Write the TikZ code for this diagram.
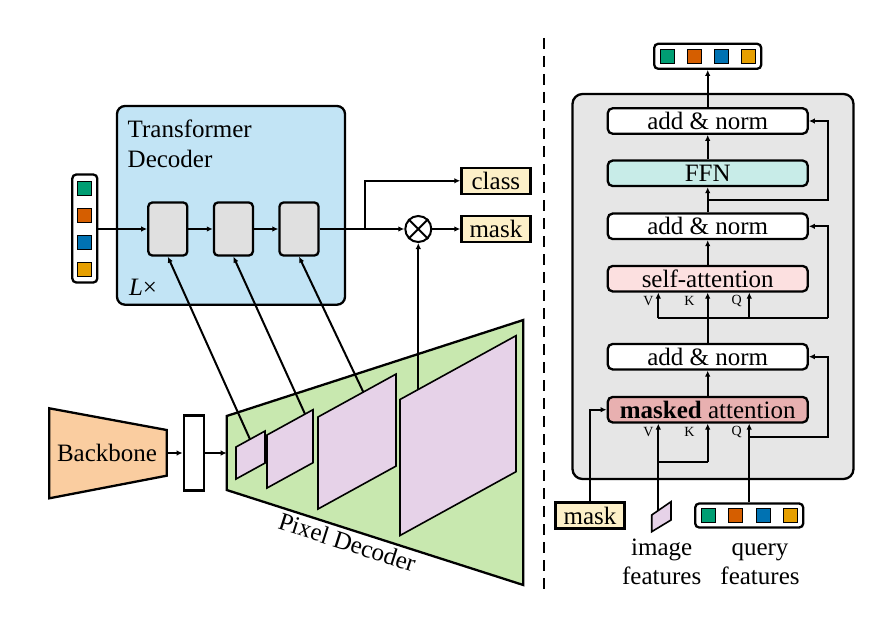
\documentclass[tikz,border=0pt]{standalone}
\usepackage{fontspec}
\setmainfont{Liberation Serif}
\usetikzlibrary{calc, arrows.meta}
\tikzset{>={Latex[length=6pt,width=5.5pt]}}
\definecolor{tdblue}{RGB}{194,228,245}
\definecolor{bbpeach}{RGB}{250,205,160}
\definecolor{pdgreen}{RGB}{200,232,175}
\definecolor{mappink}{RGB}{230,210,232}
\definecolor{outyellow}{RGB}{253,240,200}
\definecolor{blockgray}{RGB}{224,224,224}
\definecolor{panelgray}{RGB}{230,230,230}
\definecolor{ffncol}{RGB}{200,236,232}
\definecolor{sacol}{RGB}{252,224,224}
\definecolor{macol}{RGB}{232,176,176}
\definecolor{tokgreen}{RGB}{0,158,115}
\definecolor{tokorange}{RGB}{213,94,0}
\definecolor{tokblue}{RGB}{0,114,178}
\definecolor{tokgold}{RGB}{230,159,0}

\begin{document}
\begin{tikzpicture}[x=1pt, y=-1pt, line width=2pt, font=\fontsize{25}{30}\selectfont,
  tok/.style={draw, line width=0.8pt, minimum size=14pt, inner sep=0pt},
  tokbox/.style={draw, line width=2.3pt, rounded corners=4pt, fill=white, inner sep=0pt},
  layer/.style={draw, line width=2.3pt, rounded corners=4pt, fill=blockgray, minimum width=39pt, minimum height=53pt, inner sep=0pt},
  outbox/.style={draw, line width=2.3pt, fill=outyellow, minimum width=69pt, minimum height=26pt, inner sep=0pt},
  sublayer/.style={draw, line width=2.3pt, rounded corners=5pt, minimum width=200pt, minimum height=25.5pt, inner sep=0pt},
  featmap/.style={draw, fill=mappink, line width=1.6pt},
  qkv/.style={font=\fontsize{14}{15}\selectfont, inner sep=0pt}]
\useasboundingbox (0,0) rectangle (877,623);

% transformer decoder
\draw[fill=tdblue, line width=2.3pt, rounded corners=8pt] (117,106) rectangle (345,304.7);
\node[anchor=north west, align=left, inner sep=0pt, font=\fontsize{25}{30.3}\selectfont] (tdlabel) at (126.7,118.5) {Transformer\\Decoder};
\node[anchor=base west, inner sep=0pt] (lx) at (128,295) {{\itshape L}×};

\node[tokbox, minimum width=25pt, minimum height=108pt] (qleft) at (84.8,228.5) {};
\foreach \c [count=\i] in {tokgreen,tokorange,tokblue,tokgold}
  \node[tok, fill=\c] (ql\i) at (84.8,161+27*\i) {};

\node[layer] (blk1) at (167.8,229) {};
\node[layer] (blk2) at (233.4,229) {};
\node[layer] (blk3) at (299,229) {};
\draw[->] (qleft.east |- blk1.west) -- (blk1.west);
\draw[->] (blk1.east) -- (blk2.west);
\draw[->] (blk2.east) -- (blk3.west);

\node[draw, circle, minimum size=26pt, inner sep=0pt] (otimes) at (418.3,229) {};
\draw (otimes.north west) -- (otimes.south east) (otimes.north east) -- (otimes.south west);
\node[outbox] (cls) at (495.9,180.8) {class};
\node[outbox] (msk) at (495.9,229) {mask};
\draw[->] (blk3.east) -- (otimes.west);
\coordinate (split) at (365,229);
\draw[->] (split) |- (cls.west);
\draw[->] (otimes.east) -- (msk.west);

% backbone and pixel decoder
\draw[fill=bbpeach, line width=2.3pt] (49.3,408.3) -- (166.7,430) -- (166.7,475.7) -- (49.3,498.3) -- cycle;
\node (backbone) at (107,453) {Backbone};
\coordinate (bbout) at (166.7,453);
\node[draw, line width=2.3pt, fill=white, minimum width=20pt, minimum height=75pt, inner sep=0pt] (bbfeat) at (193.8,453) {};
\draw[->] (bbout) -- (bbfeat.west);

\draw[fill=pdgreen, line width=2.3pt] (226.7,416) -- (523.3,320) -- (523.3,585) -- (226.7,490) -- cycle;
\coordinate (pdin) at (226.7,453);
\draw[->] (bbfeat.east) -- (pdin);
\path (226.7,490) -- (523.3,585) node[pos=0.42, sloped, below, inner sep=3pt] (pdlabel) {Pixel Decoder};

\foreach \xl/\yt/\w/\h in {236/447/29/32, 267/435/46/53, 318/417/78/92, 400/399.5/116/136}
  \draw[featmap] (\xl,\yt) -- ++(\w,{-0.55*\w}) -- ++(0,\h) -- ++({-\w},{0.55*\w}) -- cycle;

\coordinate (f1) at (250,439.3);
\coordinate (f2) at (305,414);
\coordinate (f3) at (363.3,392);
\coordinate (f4) at (418.3,389.4);
\draw[->] (f1) -- (blk1.south);
\draw[->] (f2) -- (blk2.south);
\draw[->] (f3) -- (blk3.south);
\draw[->] (f4) -- (otimes.south);

% divider
\draw[dash pattern=on 11pt off 7pt] (544,38) -- (544,592);

% decoder layer
\draw[fill=panelgray, line width=2.3pt, rounded corners=10pt] (572.5,94) rectangle (853.5,479);

\node[tokbox, minimum width=107pt, minimum height=25pt] (qout) at (707.7,56.3) {};
\foreach \c [count=\i] in {tokgreen,tokorange,tokblue,tokgold}
  \node[tok, fill=\c] (qo\i) at (640.2+27*\i,56.3) {};

\node[sublayer, fill=white] (an1) at (707.7,121) {add \& norm};
\node[sublayer, fill=ffncol] (ffn) at (707.7,173.3) {FFN};
\node[sublayer, fill=white] (an2) at (707.7,226.3) {add \& norm};
\node[sublayer, fill=sacol] (sa) at (707.7,278.7) {self-attention};
\node[sublayer, fill=white] (an3) at (707.7,356.7) {add \& norm};
\node[sublayer, fill=macol] (ma) at (707.7,409.7) {\textbf{masked} attention};

\draw[->] (an1.north) -- (qout.south);
\draw[->] (ffn.north) -- (an1.south);
\draw[->] (an2.north) -- (ffn.south);
\draw[->] (sa.north) -- (an2.south);
\draw[->] (ma.north) -- (an3.south);

\coordinate (resx) at (828.3,0);
\coordinate (r1) at ($(an2.north)!0.5!(ffn.south)$);
\draw[->] (r1) -- (r1 -| resx) |- (an1.east);

\coordinate (sav) at (658.3,318.3);
\coordinate (saq) at (749.3,318.3);
\draw[->] (an3.north) -- (sa.south);
\draw (sav) -- (sav -| resx);
\draw[->] (sav -| resx) |- (an2.east);
\draw[->] (sav) -- (sav |- sa.south);
\draw[->] (saq) -- (saq |- sa.south);
\node[qkv] (saV) at (648.3,301) {V};
\node[qkv] (saK) at (689.3,301) {K};
\node[qkv] (saQ) at (736.7,301) {Q};

% inputs
\node[outbox] (mskin) at (590,515.5) {mask};
\draw[->] (mskin.north) |- (ma.west);

\draw[featmap] (651.7,515) -- (671,501.7) -- (671,520) -- (651.7,531.7) -- cycle;
\coordinate (imf) at (658.3,510.4);
\coordinate (imjoin) at (658.3,461.7);
\draw (imf) -- (imjoin) -- (imjoin -| ma.south);
\draw[->] (imjoin) -- (imjoin |- ma.south);
\draw[->] (imjoin -| ma.south) -- (ma.south);

\node[tokbox, minimum width=108pt, minimum height=24pt] (qin) at (749.2,515.5) {};
\foreach \c [count=\i] in {tokgreen,tokorange,tokblue,tokgold}
  \node[tok, fill=\c] (qi\i) at (681.4+27.2*\i,515.5) {};
\draw[->] (qin.north) -- (qin.north |- ma.south);
\coordinate (qbranch) at (749.2,436.7);
\draw[->] (qbranch) -- (qbranch -| resx) |- (an3.east);
\node[qkv] (maV) at (648.3,432) {V};
\node[qkv] (maK) at (689.3,432) {K};
\node[qkv] (maQ) at (736.7,432) {Q};

\node[align=center, anchor=north, inner sep=0pt, font=\fontsize{25}{28.3}\selectfont] (imgtxt) at (661.7,535) {\strut image\\features};
\node[align=center, anchor=north, inner sep=0pt, font=\fontsize{25}{28.3}\selectfont] (qtxt) at (760,535) {\strut query\\features};
\end{tikzpicture}
\end{document}
